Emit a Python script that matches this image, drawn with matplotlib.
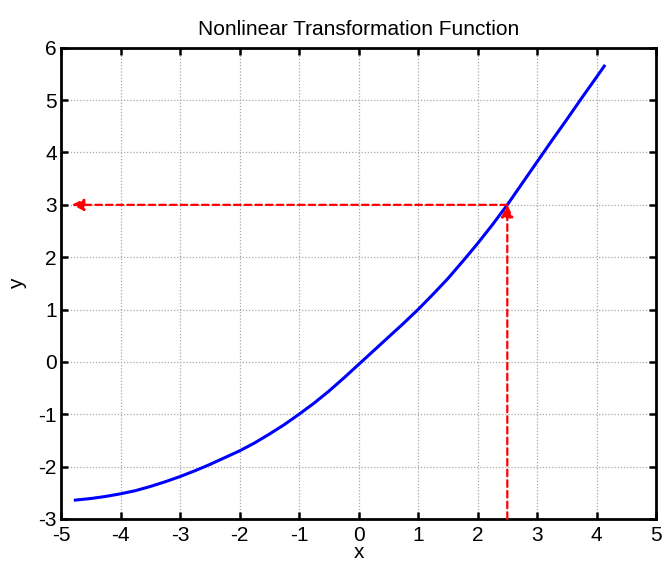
import matplotlib
matplotlib.use('Agg')
import matplotlib.pyplot as plt

# curve values
x_vals = [-4.76, -4.5, -4.25, -4.0, -3.75, -3.5, -3.25, -3.0, -2.75, -2.5,
          -2.25, -2.0, -1.75, -1.5, -1.25, -1.0, -0.75, -0.5, -0.25, 0.0,
          0.25, 0.5, 0.75, 1.0, 1.25, 1.5, 1.75, 2.0, 2.25, 2.5,
          2.75, 3.0, 3.25, 3.5, 3.75, 4.0, 4.13]
y_vals = [-2.64, -2.61, -2.57, -2.52, -2.46, -2.38, -2.29, -2.19, -2.08, -1.96,
          -1.83, -1.70, -1.55, -1.38, -1.20, -1.00, -0.79, -0.56, -0.31, -0.05,
          0.21, 0.47, 0.73, 1.00, 1.29, 1.59, 1.92, 2.26, 2.62, 3.00,
          3.41, 3.82, 4.23, 4.63, 5.04, 5.44, 5.65]

x_in = 2.5
y_out = 3.0
x_arrow_end = -4.82

x_ticks = list(range(-5, 6))
y_ticks = list(range(-3, 7))

plt.rcParams['font.family'] = ['Liberation Sans', 'DejaVu Sans']
plt.rcParams['axes.unicode_minus'] = False

fig = plt.figure(figsize=(6.64, 5.69), dpi=100)
ax = fig.add_axes([0.092, 0.088, 0.896, 0.828])

ax.plot(x_vals, y_vals, color='blue', linewidth=2.2)

arrow_style = dict(arrowstyle='-|>', color='red', linestyle=(0, (3, 1.8)), linewidth=1.6,
                   mutation_scale=18, shrinkA=0, shrinkB=0)
ax.annotate('', xy=(x_in, y_out), xytext=(x_in, -3), arrowprops=arrow_style)
ax.annotate('', xy=(x_arrow_end, y_out), xytext=(x_in, y_out), arrowprops=arrow_style)

ax.set_xlim(-5, 5)
ax.set_ylim(-3, 6)
ax.set_xticks(x_ticks)
ax.set_yticks(y_ticks)
ax.grid(True, linestyle=(0, (1, 1.5)), color='#a8a8a8', linewidth=0.9)
ax.tick_params(direction='in', length=5, width=1.8, top=True, right=True,
               labelsize=15)
ax.tick_params(axis='x', pad=5)
ax.tick_params(axis='y', pad=3)
for s in ax.spines.values():
    s.set_linewidth(2)

ax.set_xlabel('x', fontsize=15, labelpad=-1)
ax.set_ylabel('y', fontsize=15, labelpad=8)
ax.set_title('Nonlinear Transformation Function', fontsize=15, pad=9)

plt.savefig('out.png', dpi=100)
